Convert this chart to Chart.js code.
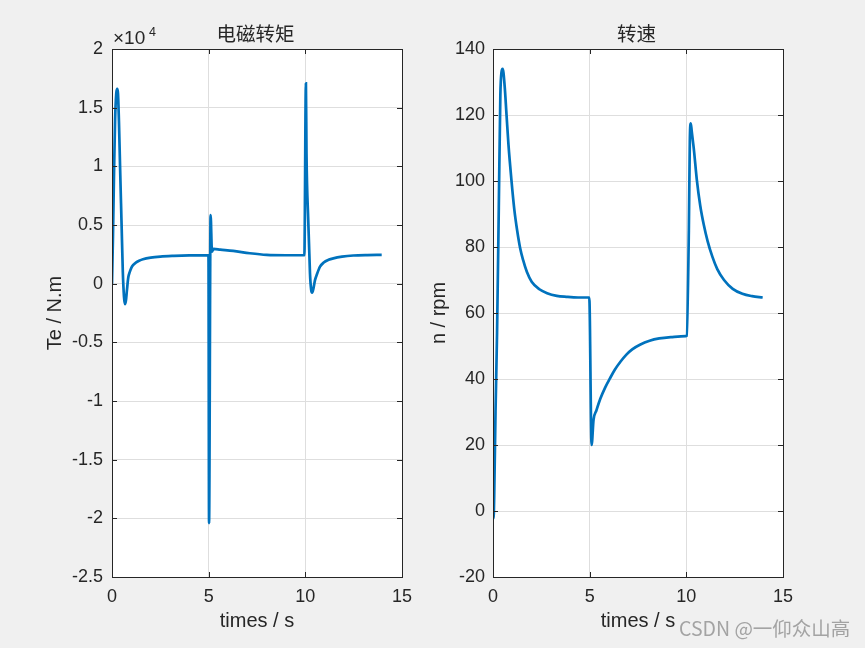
<!DOCTYPE html>
<html>
<head>
<meta charset="utf-8">
<script src="https://cdn.jsdelivr.net/npm/chart.js@4"></script>
<style>
  body { margin: 0; background: #f0f0f0; width: 865px; height: 648px; overflow: hidden; position: relative; }
  canvas { position: absolute; top: 0; }
  #mark { position: absolute; left: 679px; top: 613px; font: 19.5px "Noto Sans CJK SC", "Noto Sans", sans-serif; color: #a3a3a3; white-space: nowrap; }
</style>
</head>
<body>
<canvas id="teChart" width="427" height="648" style="left:0"></canvas>
<canvas id="nChart" width="438" height="648" style="left:427px"></canvas>
<div id="mark">CSDN @一仰众山高</div>
<script>
// time axis ticks (s)
const xTicks = [0, 5, 10, 15];

// electromagnetic torque Te (N.m) vs time
const teTime = [0, 0.05, 0.1, 0.16, 0.22, 0.27, 0.31, 0.36, 0.42, 0.49, 0.56, 0.62, 0.67, 0.72, 0.77, 0.84, 0.92, 1.0, 1.1, 1.25, 1.4, 1.6, 2.0, 2.5, 3.2, 4.0, 4.99,
  5.02, 5.1, 5.17, 5.25, 5.6, 6.27, 7.13, 8.0, 9.0, 9.95,
  10.03, 10.06, 10.15, 10.24, 10.3, 10.35, 10.42, 10.5, 10.6, 10.76, 10.95, 11.2, 11.45, 11.9, 12.48, 13.2, 13.95];
const teValue = [0, 4000, 9000, 14000, 16200, 16600, 16200, 13800, 9800, 5400, 1000, -1100, -1750, -1450, -600, 500, 1000, 1350, 1600, 1820, 1950, 2080, 2220, 2310, 2370, 2410, 2420,
  -20400, 5850, 2730, 2960, 2900, 2790, 2590, 2450, 2420, 2420,
  17080, 11100, 5400, 900, -500, -770, -400, 300, 800, 1450, 1800, 2030, 2160, 2300, 2400, 2440, 2450];

// rotor speed n (rpm) vs time
const nTime = [0, 0.03, 0.06, 0.13, 0.21, 0.3, 0.38, 0.44, 0.5, 0.6, 0.7, 0.8, 0.95, 1.1, 1.25, 1.4, 1.56, 1.75, 2.0, 2.4, 2.8, 3.3, 3.8, 4.4, 4.98,
  5.1, 5.2, 5.35, 5.55, 5.8, 6.05, 6.3, 6.6, 6.9, 7.2, 7.6, 8.1, 8.6, 9.2, 9.97,
  10.02, 10.13, 10.18, 10.23, 10.28, 10.4, 10.54, 10.72, 10.9, 11.1, 11.35, 11.6, 11.95, 12.4, 12.9, 13.4, 13.95];
const nValue = [0, -2.2, 4, 30, 54, 92, 126, 133, 134, 129, 120, 111, 100.5, 91.5, 85, 79.8, 76, 72.5, 69.5, 67.2, 66, 65.2, 64.9, 64.7, 64.7,
  20, 27.6, 30.5, 34, 37.4, 40.2, 42.8, 45.3, 47.4, 49, 50.4, 51.6, 52.3, 52.7, 53,
  53.1, 85, 112, 117.5, 115, 109, 100.5, 92.5, 86.8, 81.8, 77, 73.3, 70, 67.3, 65.8, 65.1, 64.7];

const teTicks = [-25000, -20000, -15000, -10000, -5000, 0, 5000, 10000, 15000, 20000];
const nTicks = [-20, 0, 20, 40, 60, 80, 100, 120, 140];

const INK = "#262626";
const FONT = "'Liberation Sans', Arial, sans-serif";

const matlabAxes = {
  id: "matlabAxes",
  beforeDraw(chart) {
    const { ctx, chartArea: a } = chart;
    ctx.save();
    ctx.fillStyle = "#fff";
    ctx.fillRect(a.left, a.top, a.right - a.left, a.bottom - a.top);
    ctx.restore();
  },
  afterDraw(chart, args, opts) {
    const { ctx, chartArea: a, scales } = chart;
    ctx.save();
    ctx.strokeStyle = INK;
    ctx.lineWidth = 1;
    ctx.strokeRect(Math.round(a.left) + 0.5, Math.round(a.top) + 0.5, Math.round(a.right - a.left), Math.round(a.bottom - a.top));
    // inward tick marks, MATLAB style
    ctx.beginPath();
    scales.x.ticks.forEach(t => {
      const px = Math.round(scales.x.getPixelForValue(t.value)) + 0.5;
      ctx.moveTo(px, a.bottom); ctx.lineTo(px, a.bottom - 5);
      ctx.moveTo(px, a.top); ctx.lineTo(px, a.top + 5);
    });
    scales.y.ticks.forEach(t => {
      const py = Math.round(scales.y.getPixelForValue(t.value)) + 0.5;
      ctx.moveTo(a.left, py); ctx.lineTo(a.left + 5, py);
      ctx.moveTo(a.right, py); ctx.lineTo(a.right - 5, py);
    });
    ctx.stroke();
    // title
    ctx.fillStyle = INK;
    ctx.textAlign = "center";
    ctx.textBaseline = "middle";
    ctx.font = "19.5px 'Noto Sans CJK SC', sans-serif";
    ctx.fillText(opts.title, (a.left + a.right) / 2 - 1.5, 34);
    if (opts.exponent) {
      ctx.textAlign = "left";
      ctx.textBaseline = "alphabetic";
      ctx.font = "19px " + FONT;
      ctx.fillText("\u00d710", a.left + 1, 44);
      ctx.font = "12.5px " + FONT;
      ctx.fillText(opts.exponent, a.left + 37, 36);
    }
    ctx.restore();
  }
};

function makeChart(id, times, values, yTicks, yTitle, opts) {
  const points = times.map((t, i) => ({ x: t, y: values[i] }));
  return new Chart(document.getElementById(id), {
    type: "scatter",
    data: {
      datasets: [{
        data: points,
        showLine: true,
        borderColor: "#0072BD",
        borderWidth: 2.7,
        pointRadius: 0,
        cubicInterpolationMode: "monotone"
      }]
    },
    plugins: [matlabAxes],
    options: {
      responsive: false,
      animation: false,
      devicePixelRatio: 1,
      layout: { padding: { left: opts.padLeft, top: 49, right: opts.padRight, bottom: 15 } },
      plugins: {
        legend: { display: false },
        tooltip: { enabled: false },
        matlabAxes: { title: opts.title, exponent: opts.exponent }
      },
      scales: {
        x: {
          type: "linear",
          min: 0, max: 15,
          afterBuildTicks: s => { s.ticks = xTicks.map(v => ({ value: v })); },
          afterFit: s => { s.height = 56; },
          grid: { color: "#dedede", drawTicks: false },
          border: { color: INK },
          ticks: { color: INK, padding: 9, font: { family: FONT, size: 18 } },
          title: { display: true, text: "times / s", color: INK, padding: 0, font: { family: FONT, size: 20 } }
        },
        y: {
          min: yTicks[0], max: yTicks[yTicks.length - 1],
          afterBuildTicks: s => { s.ticks = yTicks.map(v => ({ value: v })); },
          afterFit: s => { s.width = opts.axisWidth; },
          grid: { color: "#dedede", drawTicks: false },
          border: { color: INK },
          ticks: {
            color: INK, padding: opts.tickPad, font: { family: FONT, size: 18 },
            callback: v => opts.scale ? String(v / opts.scale) : String(v)
          },
          title: { display: true, text: yTitle, color: INK, padding: 0, font: { family: FONT, size: 20 } }
        }
      }
    }
  });
}

makeChart("teChart", teTime, teValue, teTicks, "Te / N.m",
  { title: "电磁转矩", exponent: "4", scale: 10000, padLeft: 43, padRight: 25, axisWidth: 69, tickPad: 9 });
makeChart("nChart", nTime, nValue, nTicks, "n / rpm",
  { title: "转速", scale: 0, padLeft: 0, padRight: 82, axisWidth: 66, tickPad: 8 });
</script>
</body>
</html>
